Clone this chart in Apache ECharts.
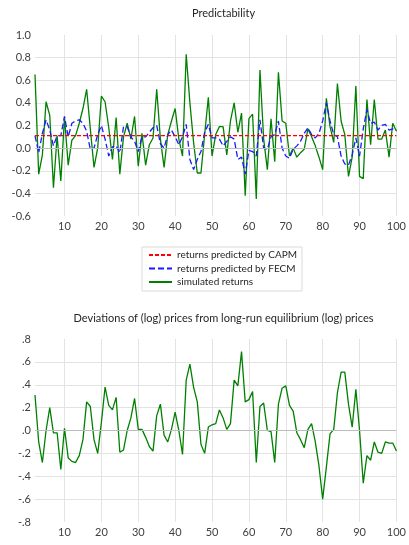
<!DOCTYPE html>
<html>
<head>
<meta charset="utf-8">
<script src="https://cdn.jsdelivr.net/npm/echarts@6/dist/echarts.min.js"></script>
<style>html,body{margin:0;padding:0;background:#fff;}#c{width:409px;height:545px;}</style>
</head>
<body>
<div id="c"></div>
<script>
const periods = [2,3,4,5,6,7,8,9,10,11,12,13,14,15,16,17,18,19,20,21,22,23,24,25,26,27,28,29,30,31,32,33,34,35,36,37,38,39,40,41,42,43,44,45,46,47,48,49,50,51,52,53,54,55,56,57,58,59,60,61,62,63,64,65,66,67,68,69,70,71,72,73,74,75,76,77,78,79,80,81,82,83,84,85,86,87,88,89,90,91,92,93,94,95,96,97,98,99,100];

const capmReturns = [0.11,0.11,0.11,0.11,0.11,0.11,0.11,0.11,0.11,0.11,0.11,0.11,0.11,0.11,0.11,0.11,0.11,0.11,0.11,0.11,0.11,0.11,0.11,0.11,0.11,0.11,0.11,0.11,0.11,0.11,0.11,0.11,0.11,0.11,0.11,0.11,0.11,0.11,0.11,0.11,0.11,0.11,0.11,0.11,0.11,0.11,0.11,0.11,0.11,0.11,0.11,0.11,0.11,0.11,0.11,0.11,0.11,0.11,0.11,0.11,0.11,0.11,0.11,0.11,0.11,0.11,0.11,0.11,0.11,0.11,0.11,0.11,0.11,0.11,0.11,0.11,0.11,0.11,0.11,0.11,0.11,0.11,0.11,0.11,0.11,0.11,0.11,0.11,0.11,0.11,0.11,0.11,0.11,0.11,0.11,0.11,0.11,0.11,0.11];

const fecmReturns = [0.11,-0.04,0.13,0.25,0.16,0.02,0.11,0.11,0.28,0.10,0.22,0.24,0.25,0.22,0.15,-0.01,0.0,0.12,0.20,0.08,-0.07,0.01,0.02,-0.04,0.19,0.19,0.10,0.06,-0.03,0.10,0.10,0.14,0.18,0.20,0.04,0.0,0.12,0.16,0.10,0.03,0.10,0.21,-0.10,-0.19,-0.10,-0.03,0.14,0.21,0.09,0.09,0.08,0.02,0.06,0.10,0.08,-0.10,-0.08,-0.23,-0.02,-0.03,-0.07,0.25,0.0,-0.01,0.10,0.12,0.24,0.0,-0.07,-0.09,-0.01,0.02,0.06,0.13,0.18,0.12,0.09,0.13,0.24,0.40,0.24,0.12,0.10,-0.07,-0.14,-0.15,-0.06,0.09,-0.07,0.17,0.34,0.22,0.23,0.16,0.20,0.21,0.16,0.17,0.16];

const simulatedReturns = [0.65,-0.23,-0.06,0.41,0.29,-0.35,0.11,-0.29,0.27,-0.15,0.07,0.11,0.22,0.35,0.52,0.17,-0.17,0.0,0.46,0.41,0.18,-0.10,0.27,-0.23,0.10,0.22,0.08,0.28,-0.16,0.13,-0.15,0.03,0.09,0.52,0.08,-0.17,0.12,0.24,0.35,0.08,-0.07,0.83,0.40,0.05,-0.22,-0.22,0.12,0.45,-0.07,0.12,0.19,0.19,-0.06,0.24,0.40,0.14,0.31,-0.42,0.26,0.30,-0.45,0.69,0.08,-0.19,0.26,-0.12,0.67,0.24,0.22,-0.07,0.0,-0.08,-0.04,-0.01,0.17,0.10,0.02,-0.08,-0.19,0.44,0.19,0.05,0.57,0.24,0.12,-0.25,-0.08,0.55,-0.25,-0.27,0.43,0.03,0.43,0.08,0.08,0.16,-0.08,0.22,0.15];

const deviations = [0.31,-0.10,-0.28,0.0,0.20,-0.02,-0.02,-0.34,0.02,-0.24,-0.27,-0.28,-0.22,-0.08,0.25,0.21,-0.08,-0.20,0.07,0.38,0.22,0.18,0.29,-0.19,-0.17,0.0,0.11,0.28,0.01,0.01,-0.06,-0.14,-0.18,0.13,0.23,-0.04,-0.10,0.01,0.16,0.0,-0.21,0.44,0.58,0.38,0.25,-0.12,-0.20,0.03,0.05,0.06,0.18,0.11,0.01,0.06,0.44,0.39,0.69,0.25,0.27,0.34,-0.28,0.21,0.24,0.0,-0.01,-0.28,0.23,0.37,0.39,0.22,0.17,-0.02,-0.08,-0.15,0.01,0.06,-0.10,-0.31,-0.60,-0.32,-0.03,0.01,0.33,0.51,0.51,0.23,0.03,0.36,0.0,-0.46,-0.22,-0.26,-0.10,-0.19,-0.20,-0.10,-0.11,-0.11,-0.18];

const titles = ['Predictability', 'Deviations of (log) prices from long-run equilibrium (log) prices'];
const legendNames = ['returns predicted by CAPM', 'returns predicted by FECM', 'simulated returns'];

const FONT = 'Lato, "Open Sans", sans-serif';
const gridColor = '#e3e3e3';
const zeroColor = '#bcbcbc';
const labelColor = '#404040';

function xAxisCfg(gridIndex) {
  return {
    type: 'category', gridIndex: gridIndex, data: periods, boundaryGap: false,
    axisLine: { show: false }, axisTick: { show: false },
    axisLabel: { interval: function (idx, val) { return Number(val) % 10 === 0; },
      color: labelColor, fontFamily: FONT, fontSize: 11, margin: 5, showMaxLabel: true },
    splitLine: { show: true, interval: function (idx, val) { return Number(val) % 10 === 0; },
      lineStyle: { color: gridColor, width: 1 } }
  };
}
function yAxisCfg(gridIndex, min, max, fmt) {
  return {
    type: 'value', gridIndex: gridIndex, min: min, max: max, interval: 0.2,
    axisLine: { show: false }, axisTick: { show: false },
    axisLabel: { color: labelColor, fontFamily: FONT, fontSize: 11, margin: 4, formatter: fmt },
    splitLine: { show: true, showMinLine: false, showMaxLine: false, lineStyle: { color: gridColor, width: 1 } }
  };
}
const zeroLine = {
  silent: true, symbol: 'none', label: { show: false },
  lineStyle: { color: zeroColor, type: 'solid', width: 1 },
  data: [{ yAxis: 0 }]
};

const chart = echarts.init(document.getElementById('c'), null, { renderer: 'canvas' });
chart.setOption({
  animation: false,
  backgroundColor: '#ffffff',
  textStyle: { fontFamily: FONT },
  title: [
    { text: titles[0], left: 218.5, textAlign: 'center', top: 3,
      textStyle: { fontFamily: FONT, fontSize: 11, fontWeight: 'normal', color: '#262626' } },
    { text: titles[1], left: 218.5, textAlign: 'center', top: 308,
      textStyle: { fontFamily: FONT, fontSize: 11, fontWeight: 'normal', color: '#262626' } }
  ],
  legend: {
    data: legendNames, orient: 'vertical', left: 142, top: 247,
    padding: [3, 5, 4, 6], itemWidth: 23, itemHeight: 10, itemGap: 3.5,
    borderColor: '#d9d9d9', borderWidth: 1,
    itemStyle: { opacity: 0, borderWidth: 0 },
    textStyle: { fontFamily: FONT, fontSize: 10, color: '#262626' }
  },
  grid: [
    { left: 35, right: 7, top: 35, height: 181 },
    { left: 35, right: 7, top: 339, height: 183 }
  ],
  xAxis: [xAxisCfg(0), xAxisCfg(1)],
  yAxis: [
    yAxisCfg(0, -0.6, 1.0, function (v) { return v.toFixed(1); }),
    yAxisCfg(1, -0.8, 0.8, function (v) { var s = Math.abs(v).toFixed(1).replace(/^0/, ''); return (v < -1e-9 ? '-' : '') + s; })
  ],
  series: [
    { name: legendNames[2], type: 'line', xAxisIndex: 0, yAxisIndex: 0, data: simulatedReturns,
      symbol: 'none', showSymbol: false, z: 2,
      lineStyle: { color: '#008000', width: 1.3 }, itemStyle: { color: '#008000' },
      markLine: zeroLine },
    { name: legendNames[1], type: 'line', xAxisIndex: 0, yAxisIndex: 0, data: fecmReturns,
      symbol: 'none', showSymbol: false, z: 3,
      lineStyle: { color: '#1a1aff', width: 1.3, type: [6, 3] }, itemStyle: { color: '#1a1aff' } },
    { name: legendNames[0], type: 'line', xAxisIndex: 0, yAxisIndex: 0, data: capmReturns,
      symbol: 'none', showSymbol: false, z: 4,
      lineStyle: { color: '#ff0000', width: 1.2, type: [4, 2] }, itemStyle: { color: '#ff0000' } },
    { name: 'deviations', type: 'line', xAxisIndex: 1, yAxisIndex: 1, data: deviations,
      symbol: 'none', showSymbol: false, z: 2,
      lineStyle: { color: '#008000', width: 1.3 }, itemStyle: { color: '#008000' },
      markLine: zeroLine }
  ]
});
</script>
</body>
</html>
